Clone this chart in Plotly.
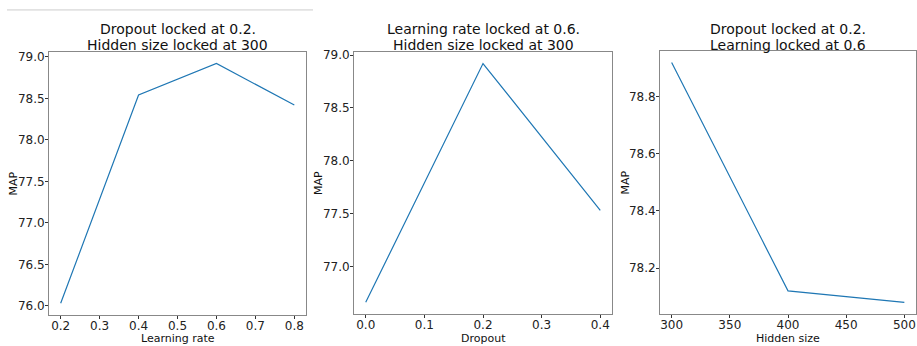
import plotly.graph_objects as go

W, H = 917, 346

# Data
lr_x = [0.2, 0.4, 0.6, 0.8]
lr_map = [76.03, 78.54, 78.92, 78.42]
do_x = [0.0, 0.2, 0.4]
do_map = [76.66, 78.92, 77.53]
hs_x = [300, 400, 500]
hs_map = [78.92, 78.12, 78.08]

title_line1 = ["Dropout locked at 0.2.", "Learning rate locked at 0.6.", "Dropout locked at 0.2."]
title_line2 = ["Hidden size locked at 300", "Hidden size locked at 300", "Learning locked at 0.6"]
xlabels = ["Learning rate", "Dropout", "Hidden size"]
ylabel = "MAP"

# panel pixel boxes (left, right, top, bottom)
boxes = [(49, 306, 49, 315), (354, 612, 49, 314), (660, 916, 48, 314)]
xranges = [[0.17, 0.83], [-0.02, 0.42], [290, 510]]
yranges = [[75.886, 79.064], [76.547, 79.033], [78.038, 78.962]]
xticks = [[0.2, 0.3, 0.4, 0.5, 0.6, 0.7, 0.8], [0.0, 0.1, 0.2, 0.3, 0.4], [300, 350, 400, 450, 500]]
yticks = [[76.0, 76.5, 77.0, 77.5, 78.0, 78.5, 79.0], [77.0, 77.5, 78.0, 78.5, 79.0], [78.2, 78.4, 78.6, 78.8]]
xfmt = [".1f", ".1f", "d"]
yfmt = [".1f", ".1f", ".1f"]
ylab_x = [13, 319, 625]

FONT = "DejaVu Sans"
fig = go.Figure()
series = [(lr_x, lr_map), (do_x, do_map), (hs_x, hs_map)]
annotations = []


def ann(text, x, y, size, angle=0):
    return dict(text=text, x=x / W, y=1 - y / H, xref="paper", yref="paper", showarrow=False,
                textangle=angle, font=dict(family=FONT, size=size, color="#111111"),
                xanchor="center", yanchor="middle")


for i, ((xs, ys), (l, r, t, b)) in enumerate(zip(series, boxes)):
    n = "" if i == 0 else str(i + 1)
    fig.add_trace(go.Scatter(x=xs, y=ys, mode="lines", line=dict(color="#1f77b4", width=1.2),
                             xaxis="x" + n, yaxis="y" + n, showlegend=False, hoverinfo="skip"))
    common = dict(showline=True, linecolor="#888888", linewidth=1, mirror=True, showgrid=False,
                  zeroline=False, ticks="outside", ticklen=3, tickcolor="#333333",
                  tickfont=dict(family=FONT, size=12, color="#222222"))
    fig.layout["xaxis" + n] = dict(domain=[l / W, r / W], range=xranges[i], tickvals=xticks[i],
                                   tickformat=xfmt[i], anchor="y" + n, ticklabelstandoff=-4, **common)
    fig.layout["yaxis" + n] = dict(domain=[1 - b / H, 1 - t / H], range=yranges[i], tickvals=yticks[i],
                                   tickformat=yfmt[i], anchor="x" + n, ticklabelstandoff=-2, **common)
    cx = (l + r) / 2
    annotations.append(ann(title_line1[i], cx, 26.7, 14))
    annotations.append(ann(title_line2[i], cx, 42.3, 14))
    annotations.append(ann(xlabels[i], cx, 338, 11))
    annotations.append(ann(ylabel, ylab_x[i], (t + b) / 2, 11, -90))

fig.update_layout(width=W, height=H, margin=dict(l=0, r=0, t=0, b=0),
                  paper_bgcolor="white", plot_bgcolor="white", annotations=annotations,
                  shapes=[dict(type="line", xref="paper", yref="paper", x0=7 / W, x1=313 / W,
                               y0=1 - 7 / H, y1=1 - 7 / H, line=dict(color="#cccccc", width=1))])
fig.write_html("out.html", config={"displayModeBar": False},
               post_script="document.body.style.margin='0';document.body.style.overflow='hidden';")
